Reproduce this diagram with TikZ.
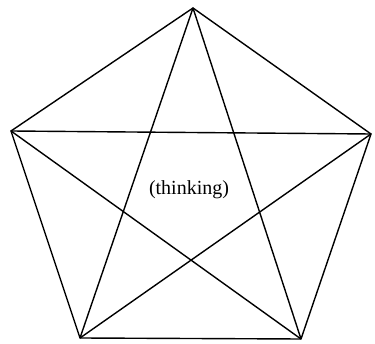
\documentclass[tikz,border=0pt]{standalone}
\usepackage{fontspec}
\setmainfont{Liberation Serif}
\begin{document}
\begin{tikzpicture}[x=1pt,y=-1pt,line width=1.4pt]
				\useasboundingbox (0,0) rectangle (375,344);
				\coordinate (T) at (193,8);
				\coordinate (L) at (11,131);
				\coordinate (R) at (371,134);
				\coordinate (BL) at (80,338);
				\coordinate (BR) at (301,339);
				\node (lbl) at (189,190) {\fontsize{20}{24}\selectfont (thinking)};
				\draw (T) -- (L) -- (BL) -- (BR) -- (R) -- cycle;
				\draw (T) -- (BL);
				\draw (T) -- (BR);
				\draw (L) -- (R);
				\draw (L) -- (BR);
				\draw (R) -- (BL);
				\end{tikzpicture}
\end{document}
